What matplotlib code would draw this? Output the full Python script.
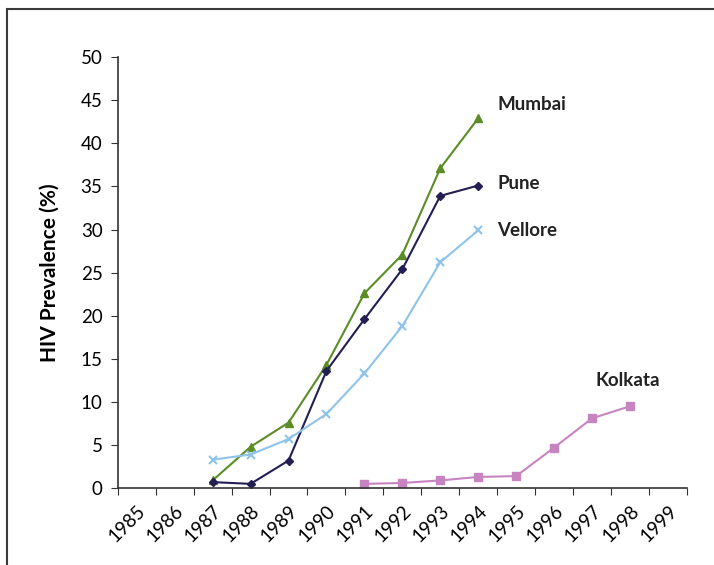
import numpy as np
import matplotlib
matplotlib.use("Agg")
import matplotlib.pyplot as plt
from matplotlib.patches import Rectangle

years = list(range(1985, 2000))

mumbai_years = [1987, 1988, 1989, 1990, 1991, 1992, 1993, 1994]
mumbai = [0.9, 4.8, 7.6, 14.3, 22.6, 27.1, 37.1, 42.9]

pune_years = [1987, 1988, 1989, 1990, 1991, 1992, 1993, 1994]
pune = [0.7, 0.5, 3.2, 13.6, 19.6, 25.4, 33.9, 35.1]

vellore_years = [1987, 1988, 1989, 1990, 1991, 1992, 1993, 1994]
vellore = [3.3, 3.9, 5.7, 8.6, 13.3, 18.8, 26.2, 29.9]

kolkata_years = [1991, 1992, 1993, 1994, 1995, 1996, 1997, 1998]
kolkata = [0.5, 0.6, 0.9, 1.3, 1.4, 4.7, 8.1, 9.5]

plt.rcParams["font.family"] = ["Lato", "DejaVu Sans"]

fig = plt.figure(figsize=(7.14, 5.65), dpi=100)
fig.patches.append(Rectangle((7 / 714, -0.1), 1.2, 1 - 9 / 565 + 0.1,
                             transform=fig.transFigure, fill=False,
                             edgecolor="#3a3a3a", linewidth=1.5))

ax = fig.add_axes([0.165, 0.136, 0.797, 0.763])


def pos(ys):
    return [years.index(y) for y in ys]


ax.plot(pos(mumbai_years), mumbai, color="#5b8c26", marker="^", markersize=6, linewidth=1.5)
ax.plot(pos(pune_years), pune, color="#231f55", marker="D", markersize=4, linewidth=1.5)
ax.plot(pos(vellore_years), vellore, color="#8ec3ea", marker="x", markersize=6,
        markeredgewidth=1.5, linewidth=1.5)
ax.plot(pos(kolkata_years), kolkata, color="#c884c0", marker="s", markersize=6, linewidth=1.5)

# series names next to the line ends
lab = dict(fontsize=13.5, fontweight="bold", color="#222222", va="center")
ax.text(pos([1994])[0] + 0.5, 44.5, "Mumbai", **lab)
ax.text(pos([1994])[0] + 0.5, 35.3, "Pune", **lab)
ax.text(pos([1994])[0] + 0.5, 29.9, "Vellore", **lab)
ax.text(pos([1998])[0] - 0.9, 12.5, "Kolkata", **lab)

ax.set_xlim(-0.5, len(years) - 0.5)
ax.set_ylim(0, 50)
ax.set_yticks(np.arange(0, 51, 5))
ax.tick_params(axis="y", labelsize=13.5, length=5, color="#333333", pad=6)

ax.set_xticks(np.arange(-0.5, len(years), 1))
ax.set_xticklabels([])
ax.set_xticks(range(len(years)), minor=True)
ax.set_xticklabels([str(y) for y in years], minor=True, rotation=45,
                   ha="right", rotation_mode="anchor", fontsize=13.5)
ax.tick_params(axis="x", which="major", length=5, color="#333333")
ax.tick_params(axis="x", which="minor", length=0, pad=10)

ax.set_ylabel("HIV Prevalence (%)", fontsize=15, fontweight="bold", labelpad=15)

for s in ["top", "right"]:
    ax.spines[s].set_visible(False)
for s in ["left", "bottom"]:
    ax.spines[s].set_color("#333333")
    ax.spines[s].set_linewidth(1.2)

fig.savefig("out.png", dpi=100)
